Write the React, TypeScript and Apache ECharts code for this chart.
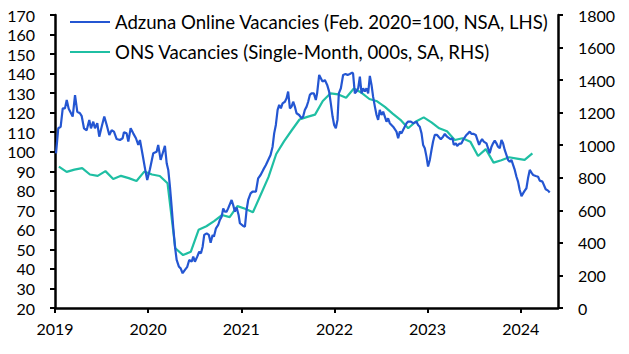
import { useEffect, useRef } from "react";
import * as echarts from "echarts";

const xYearLabels = [2019, 2020, 2021, 2022, 2023, 2024];
const xMin = 2019;
const xMax = 2024.4;
const leftMin = 20, leftMax = 170, leftStep = 10;
const rightMin = 0, rightMax = 1800, rightStep = 200;

const adzunaName = "Adzuna Online Vacancies (Feb. 2020=100, NSA, LHS)";
const onsName = "ONS Vacancies (Single-Month, 000s, SA, RHS)";

// Adzuna weekly index: dates as decimal years
const adzunaDates = [
  2019.011, 2019.035, 2019.061, 2019.083, 2019.107, 2019.126, 2019.147, 2019.172, 2019.19, 2019.215,
  2019.239, 2019.268, 2019.287, 2019.311, 2019.34, 2019.368, 2019.386, 2019.411, 2019.429, 2019.454,
  2019.475, 2019.501, 2019.529, 2019.555, 2019.583, 2019.608, 2019.633, 2019.662, 2019.697, 2019.726,
  2019.74, 2019.769, 2019.787, 2019.812, 2019.84, 2019.869, 2019.894, 2019.912, 2019.941, 2019.966,
  2019.99, 2020.019, 2020.055, 2020.091, 2020.108, 2020.134, 2020.156, 2020.18, 2020.199, 2020.216,
  2020.234, 2020.252, 2020.269, 2020.288, 2020.306, 2020.331, 2020.349, 2020.37, 2020.395, 2020.42,
  2020.441, 2020.467, 2020.484, 2020.502, 2020.527, 2020.548, 2020.567, 2020.585, 2020.602, 2020.628,
  2020.652, 2020.671, 2020.692, 2020.706, 2020.728, 2020.752, 2020.77, 2020.789, 2020.806, 2020.824,
  2020.842, 2020.859, 2020.896, 2020.913, 2020.931, 2020.95, 2020.971, 2020.985, 2021.02, 2021.039,
  2021.057, 2021.074, 2021.1, 2021.121, 2021.157, 2021.181, 2021.207, 2021.235, 2021.264, 2021.289,
  2021.314, 2021.336, 2021.353, 2021.371, 2021.39, 2021.407, 2021.425, 2021.443, 2021.468, 2021.486,
  2021.503, 2021.522, 2021.54, 2021.557, 2021.575, 2021.593, 2021.621, 2021.647, 2021.664, 2021.682,
  2021.701, 2021.718, 2021.736, 2021.754, 2021.779, 2021.8, 2021.814, 2021.836, 2021.854, 2021.872,
  2021.897, 2021.922, 2021.943, 2021.961, 2021.98, 2021.997, 2022.015, 2022.033, 2022.047, 2022.069,
  2022.093, 2022.119, 2022.141, 2022.165, 2022.19, 2022.2, 2022.219, 2022.237, 2022.255, 2022.273,
  2022.291, 2022.308, 2022.326, 2022.344, 2022.362, 2022.38, 2022.398, 2022.415, 2022.434, 2022.452,
  2022.469, 2022.487, 2022.505, 2022.523, 2022.559, 2022.576, 2022.594, 2022.63, 2022.666, 2022.684,
  2022.702, 2022.72, 2022.737, 2022.774, 2022.791, 2022.82, 2022.844, 2022.881, 2022.898, 2022.916,
  2022.935, 2022.952, 2022.97, 2022.988, 2023.005, 2023.024, 2023.042, 2023.059, 2023.077, 2023.102,
  2023.123, 2023.142, 2023.166, 2023.185, 2023.209, 2023.246, 2023.267, 2023.281, 2023.303, 2023.317,
  2023.338, 2023.364, 2023.381, 2023.399, 2023.417, 2023.435, 2023.453, 2023.471, 2023.496, 2023.517,
  2023.553, 2023.568, 2023.585, 2023.603, 2023.632, 2023.649, 2023.667, 2023.686, 2023.703, 2023.721,
  2023.739, 2023.756, 2023.775, 2023.793, 2023.81, 2023.828, 2023.847, 2023.864, 2023.882, 2023.9,
  2023.936, 2023.954, 2023.971, 2023.989, 2024.008, 2024.025, 2024.043, 2024.061, 2024.078, 2024.097,
  2024.115, 2024.132, 2024.161, 2024.186, 2024.204, 2024.233, 2024.268, 2024.293, 2024.311,
];
const adzunaValues = [
  99.2, 112, 112.8, 122.2, 122.2, 126.5, 122, 119.7, 118, 129,
  120.5, 119.7, 118.2, 112, 111, 116.2, 112, 115.4, 112, 114.6,
  107.7, 112.8, 118, 113.7, 108.6, 111, 110.3, 106.5, 106, 106.9,
  110, 109.4, 105.2, 112, 109.4, 106.9, 103.5, 106, 98.3, 91.5,
  85.5, 91, 99.2, 100, 103.5, 95.8, 99.2, 103, 94.1, 90.7,
  82.1, 71.9, 61.6, 51.4, 44.6, 41.1, 40.3, 37.8, 39.5, 41.1,
  44.6, 43.7, 46.3, 43.7, 46.3, 48.8, 48, 51.4, 57.4, 58.2,
  57.4, 53.4, 57.4, 56.5, 60.8, 62.5, 65.1, 66.7, 71, 69.3,
  69.3, 71, 75.3, 72.7, 69.3, 71.5, 67.6, 63.4, 62, 61.6,
  70.2, 75.3, 78.7, 79.6, 79.6, 86.4, 88.1, 90.7, 93.2, 95.8,
  98.3, 102.6, 109.4, 113.7, 121.4, 124, 122.2, 124.8, 125.6, 127.4,
  130.8, 122.2, 123.1, 125.6, 123.1, 119.7, 118.8, 117.1, 118, 121.4,
  123.1, 125.6, 129.1, 129.9, 129.9, 126.5, 129.9, 139.3, 137.6, 135.9,
  136.7, 134.2, 130.8, 124.8, 118, 113.7, 112, 116.3, 129.9, 132.5,
  139.3, 139.8, 139.3, 139.8, 140.5, 140, 129.9, 130.8, 132.5, 138.4,
  129.9, 132.5, 130.8, 132.5, 129.9, 138.8, 134.2, 128.2, 123.1, 118.8,
  116.3, 121.4, 118.8, 120.5, 115.4, 117.1, 114.6, 112.8, 110.3, 106.9,
  110.3, 109.4, 111.1, 114.6, 115.4, 115.4, 114.6, 115.4, 113.7, 112.8,
  109.4, 103.5, 101.8, 97.5, 92.4, 95.8, 100.9, 105.2, 108.6, 108.6,
  107.4, 106.4, 107.7, 109.1, 107.7, 106.4, 106.9, 103.5, 104.3, 103,
  104, 104.3, 106, 107.4, 108.6, 109.4, 110.3, 109.1, 109.1, 108.6,
  103.5, 105.2, 106.4, 105.2, 104.3, 101.8, 99.2, 102.6, 104.3, 105.7,
  104.3, 102.6, 101.8, 106, 104.3, 100.9, 98.3, 95.8, 94.9, 95.8,
  90.7, 87.2, 84.7, 80.4, 77.3, 78.7, 80.1, 81.3, 86.4, 90.7,
  89.3, 88.1, 87.6, 87.2, 85.2, 84.7, 80.8, 80.1, 79.1,
];

// ONS monthly vacancies (000s), Jan 2019 onwards
const onsStartYear = 2019;
const onsValues = [
  868, 836, 850, 859, 820, 812, 841, 793, 812, 798, 780, 838,
  820, 811, 766, 367, 325, 346, 480, 502, 534, 571, 558, 626,
  610, 588, 696, 804, 946, 1024, 1092, 1158, 1174, 1188, 1272, 1319,
  1312, 1292, 1348, 1322, 1284, 1270, 1236, 1194, 1156, 1104, 1146, 1171,
  1140, 1104, 1086, 1032, 1043, 1022, 934, 976, 893, 908, 926, 918,
  910, 950,
];

const FONT = "Lato";
const BLUE = "#2456D2";
const TEAL = "#1FBFA3";

export default function App() {
  const ref = useRef<HTMLDivElement>(null);
  useEffect(() => {
    if (!ref.current) return;
    const chart = echarts.init(ref.current, null, { renderer: "svg" });
    const adzuna = adzunaDates.map((d, i) => [d, adzunaValues[i]]);
    const ons = onsValues.map((v, i) => [onsStartYear + (i + 0.5) / 12, v]);
    const axisLine = { show: true, lineStyle: { color: "#000", width: 2.5 } };
    const axisTick = { show: true, inside: false, length: 5, lineStyle: { color: "#000", width: 2 } };
    const label = { color: "#000", fontSize: 16, fontFamily: FONT };
    chart.setOption({
      animation: false,
      backgroundColor: "#fff",
      grid: { left: 55, right: 71, top: 15, bottom: 46, containLabel: false },
      legend: {
        orient: "vertical",
        left: 70,
        top: 11,
        padding: 0,
        itemWidth: 40,
        itemHeight: 2.2,
        itemGap: 8,
        icon: "rect",
        textStyle: { color: "#000", fontSize: 18.6, fontFamily: FONT, lineHeight: 22 },
        data: [adzunaName, onsName],
      },
      xAxis: {
        type: "value",
        min: xMin,
        max: xMax,
        interval: 1,
        axisLine,
        axisTick: { ...axisTick, customValues: xYearLabels },
        axisLabel: { ...label, margin: 12, customValues: xYearLabels, formatter: (v: number) => String(Math.round(v)) },
        splitLine: { show: false },
      },
      yAxis: [
        {
          type: "value",
          position: "left",
          min: leftMin,
          max: leftMax,
          interval: leftStep,
          axisLine,
          axisTick,
          axisLabel: { ...label, margin: 20, formatter: (v: number) => String(v) },
          splitLine: { show: false },
        },
        {
          type: "value",
          position: "right",
          min: rightMin,
          max: rightMax,
          interval: rightStep,
          axisLine,
          axisTick,
          axisLabel: { ...label, margin: 20, formatter: (v: number) => String(v) },
          splitLine: { show: false },
        },
      ],
      series: [
        {
          name: adzunaName,
          type: "line",
          yAxisIndex: 0,
          data: adzuna,
          symbol: "none",
          lineStyle: { color: BLUE, width: 2.2 },
          itemStyle: { color: BLUE },
          z: 3,
        },
        {
          name: onsName,
          type: "line",
          yAxisIndex: 1,
          data: ons,
          symbol: "none",
          lineStyle: { color: TEAL, width: 2.2 },
          itemStyle: { color: TEAL },
          z: 2,
        },
      ],
    });
    return () => chart.dispose();
  }, []);
  return <div ref={ref} style={{ width: 629, height: 354, position: "absolute", left: 0, top: 0 }} />;
}
